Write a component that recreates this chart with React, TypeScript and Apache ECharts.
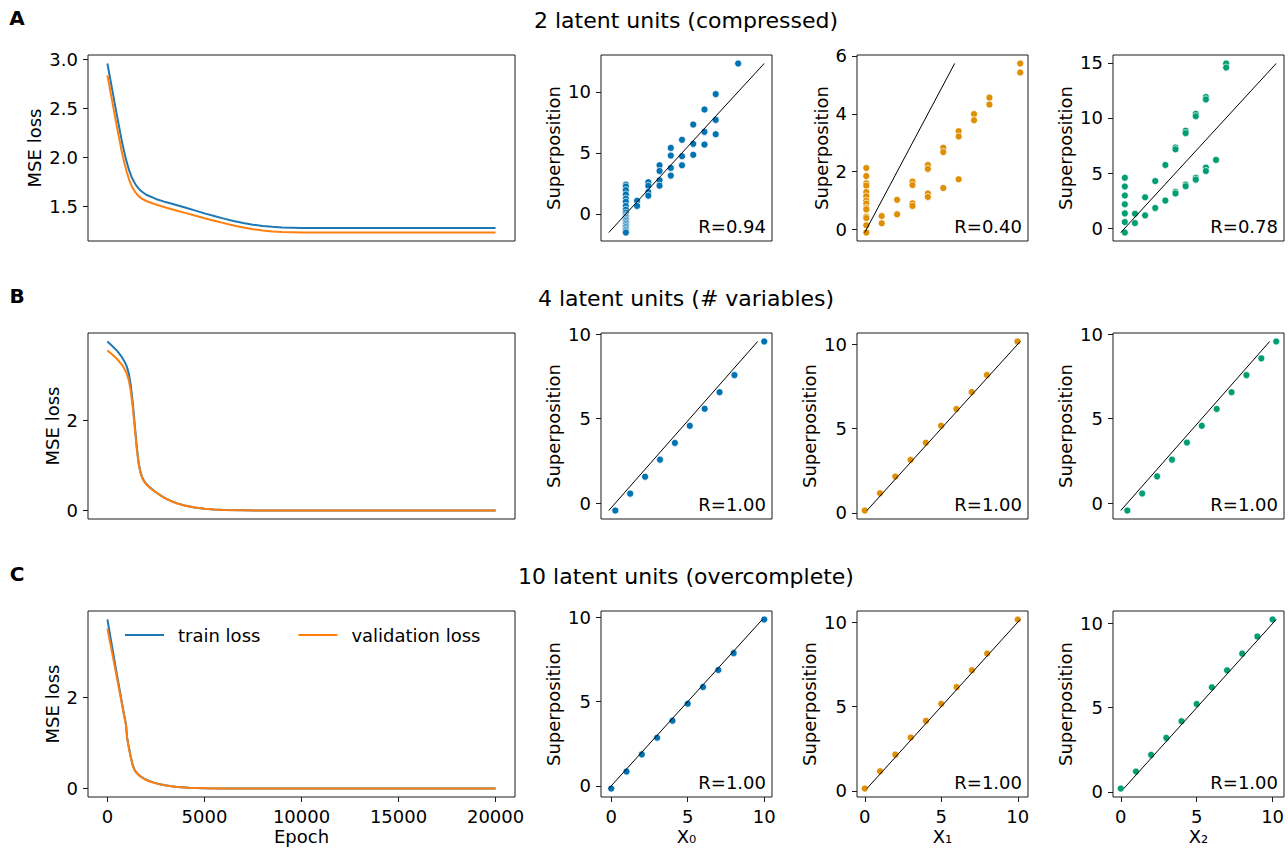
import React, { useEffect, useRef } from "react";
import * as echarts from "echarts";

const FONT = '"DejaVu Sans", sans-serif';
const INK = "#1a1a1a";

// line colours for the loss curves and the three input variables
const TRAIN_COLOR = "#1f77b4";
const VAL_COLOR = "#ff7f0e";
const X_COLORS = ["#0173b2", "#de8f05", "#029e73"];

// texts
const ROW_LETTERS = ["A", "B", "C"];
const ROW_TITLES = [
  "2 latent units (compressed)",
  "4 latent units (# variables)",
  "10 latent units (overcomplete)",
];
const X_NAMES = ["X₀", "X₁", "X₂"];
const R_LABELS = [
  ["R=0.94", "R=0.40", "R=0.78"],
  ["R=1.00", "R=1.00", "R=1.00"],
  ["R=1.00", "R=1.00", "R=1.00"],
];

// tick values
const EPOCH_TICKS = [0, 5000, 10000, 15000, 20000];
const LOSS_YTICKS = [[1.5, 2.0, 2.5, 3.0], [0, 2], [0, 2]];
const SUP_XTICKS = [0, 5, 10];
const SUP_YTICKS = [
  [[0, 5, 10], [0, 2, 4, 6], [0, 5, 10, 15]],
  [[0, 5, 10], [0, 5, 10], [0, 5, 10]],
  [[0, 5, 10], [0, 5, 10], [0, 5, 10]],
];

// loss curves, [epoch, MSE]
const trainLossA = [
  [0, 2.96], [250, 2.69], [500, 2.42], [750, 2.16], [875, 2.05], [1000, 1.95],
  [1125, 1.865], [1250, 1.8], [1375, 1.75], [1500, 1.71], [1625, 1.68], [1750, 1.655],
  [2000, 1.62], [2500, 1.577], [3000, 1.545], [3500, 1.517], [4000, 1.49],
  [4500, 1.46], [5000, 1.43], [5500, 1.402], [6000, 1.376], [6500, 1.352],
  [7000, 1.331], [7500, 1.314], [8000, 1.301], [8500, 1.292], [9000, 1.286],
  [9500, 1.283], [10000, 1.281], [11000, 1.28], [20000, 1.28],
];
const valLossA = [
  [0, 2.84], [250, 2.57], [500, 2.3], [750, 2.05], [875, 1.945], [1000, 1.85],
  [1125, 1.77], [1250, 1.71], [1375, 1.665], [1500, 1.63], [1625, 1.603], [1750, 1.583],
  [2000, 1.556], [2500, 1.52], [3000, 1.49], [3500, 1.462], [4000, 1.435],
  [4500, 1.408], [5000, 1.38], [5500, 1.355], [6000, 1.33], [6500, 1.306],
  [7000, 1.285], [7500, 1.268], [8000, 1.255], [8500, 1.245], [9000, 1.239],
  [9500, 1.236], [10000, 1.235], [11000, 1.234], [20000, 1.234],
];
const trainLossB = [
  [0, 3.76], [250, 3.66], [500, 3.55], [750, 3.41], [900, 3.3], [1000, 3.2],
  [1100, 3.05], [1200, 2.8], [1300, 2.42], [1400, 1.95], [1500, 1.47], [1600, 1.09],
  [1700, 0.86], [1800, 0.73], [1900, 0.65], [2000, 0.595], [2200, 0.51], [2400, 0.44],
  [2600, 0.38], [2800, 0.32], [3000, 0.27], [3300, 0.21], [3600, 0.16], [4000, 0.11],
  [4500, 0.068], [5000, 0.04], [5500, 0.024], [6000, 0.014], [7000, 0.005],
  [8000, 0.002], [10000, 0], [20000, 0],
];
const valLossB = [
  [0, 3.56], [250, 3.47], [500, 3.37], [750, 3.24], [900, 3.13], [1000, 3.04],
  [1100, 2.9], [1200, 2.66], [1300, 2.32], [1400, 1.88], [1500, 1.42], [1600, 1.06],
  [1700, 0.84], [1800, 0.715], [1900, 0.64], [2000, 0.585], [2200, 0.5], [2400, 0.435],
  [2600, 0.375], [2800, 0.317], [3000, 0.267], [3300, 0.207], [3600, 0.158], [4000, 0.108],
  [4500, 0.067], [5000, 0.039], [5500, 0.023], [6000, 0.013], [7000, 0.005],
  [8000, 0.002], [10000, 0], [20000, 0],
];
const trainLossC = [
  [0, 3.71], [150, 3.34], [300, 2.97], [450, 2.6], [600, 2.24], [750, 1.88],
  [850, 1.64], [930, 1.47], [960, 1.4], [1010, 1.14], [1070, 0.98], [1130, 0.85],
  [1200, 0.7], [1300, 0.52], [1400, 0.41], [1500, 0.35], [1600, 0.305], [1750, 0.255],
  [1900, 0.215], [2150, 0.165], [2400, 0.13], [2700, 0.095], [3000, 0.07], [3300, 0.05],
  [3600, 0.035], [4200, 0.016], [5000, 0.005], [6000, 0.001], [7000, 0], [20000, 0],
];
const valLossC = [
  [0, 3.51], [150, 3.18], [300, 2.85], [450, 2.52], [600, 2.18], [750, 1.85],
  [850, 1.62], [930, 1.45], [960, 1.38], [1010, 1.12], [1070, 0.965], [1130, 0.84],
  [1200, 0.69], [1300, 0.51], [1400, 0.405], [1500, 0.345], [1600, 0.3], [1750, 0.25],
  [1900, 0.21], [2150, 0.16], [2400, 0.126], [2700, 0.092], [3000, 0.068], [3300, 0.048],
  [3600, 0.034], [4200, 0.015], [5000, 0.005], [6000, 0.001], [7000, 0], [20000, 0],
];

// superposition vs. input value, [x, superposition]
const supA0 = [
  [0, 2.4], [0, 2.25], [0, 1.95], [0, 1.6], [0, 1.25], [0, 1.0], [0, 0.65], [0, 0.35],
  [0, 0.1], [0, -0.1], [0, -0.22], [0, -0.34], [0, -0.46], [0, -0.58], [0, -0.7], [0, -0.82],
  [0, -0.94], [0, -1.06], [0, -1.18], [0, -1.3], [0, -1.42], [0, -1.52],
  [1, 1.07], [1, 0.66],
  [2, 2.6], [2, 2.3], [2, 1.8], [2, 1.5],
  [3, 3.99], [3, 3.52], [3, 2.76], [3, 2.32],
  [4, 5.41], [4, 4.78], [4, 3.77], [4, 3.14],
  [5, 6.07], [5, 4.73], [5, 3.99],
  [6, 7.32], [6, 5.74], [6, 4.84],
  [7, 8.55], [7, 6.72], [7, 5.68],
  [8, 9.81], [8, 7.7], [8, 6.53],
  [10, 12.32],
];
const supA1 = [
  [0, 2.13], [0, 1.85], [0, 1.6], [0, 1.52], [0, 1.3], [0, 1.15], [0, 1.0], [0, 0.9],
  [0, 0.75], [0, 0.7], [0, 0.45], [0, 0.4], [0, 0.15], [0, -0.1],
  [1, 0.47], [1, 0.22],
  [2, 1.03], [2, 0.53],
  [3, 1.66], [3, 1.54], [3, 0.91], [3, 0.82],
  [4, 2.23], [4, 2.1], [4, 1.25], [4, 1.13],
  [5, 2.83], [5, 2.68], [5, 1.44],
  [6, 3.4], [6, 3.22], [6, 1.74],
  [7, 3.99], [7, 3.78],
  [8, 4.56], [8, 4.32],
  [10, 5.74], [10, 5.43],
];
const supA2 = [
  [0, 4.57], [0, 3.78], [0, 2.96], [0, 2.16], [0, 1.34], [0, 0.55], [0, -0.4],
  [1, 1.31], [1, 0.46],
  [2, 2.8], [2, 1.16],
  [3, 4.27], [3, 1.83],
  [4, 5.73], [4, 2.5],
  [5, 7.32], [5, 7.15], [5, 3.29], [5, 3.15],
  [6, 8.84], [6, 8.62], [6, 3.96], [6, 3.8],
  [7, 10.37], [7, 10.15], [7, 4.57], [7, 4.4],
  [8, 11.9], [8, 11.68], [8, 5.49], [8, 5.18],
  [9, 6.19],
  [10, 14.94], [10, 14.57],
];
const supB0 = [
  [0, -0.44], [1, 0.56], [2, 1.56], [3, 2.57], [4, 3.56], [5, 4.57], [6, 5.58],
  [7, 6.56], [8, 7.57], [10, 9.56],
];
const supB1 = [
  [0, 0.14], [1, 1.17], [2, 2.16], [3, 3.15], [4, 4.17], [5, 5.18], [6, 6.17],
  [7, 7.18], [8, 8.19], [10, 10.18],
];
const supB2 = [
  [0, -0.44], [1, 0.57], [2, 1.58], [3, 2.57], [4, 3.58], [5, 4.57], [6, 5.57],
  [7, 6.56], [8, 7.57], [9, 8.56], [10, 9.56],
];
const supC0 = [
  [0, -0.16], [1, 0.85], [2, 1.87], [3, 2.86], [4, 3.87], [5, 4.88], [6, 5.87],
  [7, 6.88], [8, 7.88], [10, 9.88],
];
const supC1 = [
  [0, 0.14], [1, 1.17], [2, 2.15], [3, 3.16], [4, 4.15], [5, 5.16], [6, 6.15],
  [7, 7.15], [8, 8.14], [10, 10.16],
];
const supC2 = [
  [0, 0.2], [1, 1.21], [2, 2.2], [3, 3.21], [4, 4.2], [5, 5.22], [6, 6.21],
  [7, 7.22], [8, 8.21], [9, 9.23], [10, 10.24],
];

const LOSSES = [
  [trainLossA, valLossA],
  [trainLossB, valLossB],
  [trainLossC, valLossC],
];
const SUPS = [
  [supA0, supA1, supA2],
  [supB0, supB1, supB2],
  [supC0, supC1, supC2],
];

// panel layout (px)
const ROW_TOP = [55, 333, 611];
const ROW_H = 186;
const COL_LEFT = [88, 601, 857, 1113];
const COL_W = [427, 171, 171, 171];
const TICK_FONT = 18;

const pad = (lo: number, hi: number) => {
  const d = (hi - lo) * 0.05;
  return [lo - d, hi + d];
};

let measureCtx: CanvasRenderingContext2D | null = null;
const textWidth = (s: string) => {
  if (!measureCtx) measureCtx = document.createElement("canvas").getContext("2d");
  if (!measureCtx) return s.length * TICK_FONT * 0.63;
  measureCtx.font = `${TICK_FONT}px ${FONT}`;
  return measureCtx.measureText(s).width;
};

const labelStyle = {
  fontSize: TICK_FONT,
  fontFamily: FONT,
  color: "#000",
};

function buildOption() {
  const grid: any[] = [];
  const xAxis: any[] = [];
  const yAxis: any[] = [];
  const series: any[] = [];
  const graphic: any[] = [];

  const addGrid = (r: number, c: number) => {
    grid.push({
      left: COL_LEFT[c],
      top: ROW_TOP[r],
      width: COL_W[c],
      height: ROW_H,
      show: true,
      borderColor: INK,
      borderWidth: 1,
      backgroundColor: "transparent",
    });
    return grid.length - 1;
  };

  const yAxisFor = (gi: number, min: number, max: number, ticks: number[], fmt: (v: number) => string, name: string) => {
    const widest = Math.max(...ticks.map((t) => textWidth(fmt(t))));
    return {
      gridIndex: gi,
      type: "value",
      position: "left",
      min,
      max,
      axisLine: { show: false, onZero: false },
      splitLine: { show: false },
      axisTick: { show: true, customValues: ticks, length: 5, lineStyle: { color: INK, width: 1 } },
      axisLabel: { show: true, customValues: ticks, formatter: fmt, margin: 10, ...labelStyle },
      name,
      nameLocation: "middle",
      nameGap: 10 + widest + 5.5,
      nameTextStyle: { ...labelStyle },
    };
  };

  const xAxisFor = (gi: number, min: number, max: number, ticks: number[], showTicks: boolean, name: string) => ({
    gridIndex: gi,
    type: "value",
    position: "bottom",
    min,
    max,
    axisLine: { show: false, onZero: false },
    splitLine: { show: false },
    axisTick: { show: showTicks, customValues: ticks, length: 5, lineStyle: { color: INK, width: 1 } },
    axisLabel: { show: showTicks, customValues: ticks, formatter: (v: number) => String(v), margin: 10, ...labelStyle },
    name: showTicks ? name : "",
    nameLocation: "middle",
    nameGap: 30,
    nameTextStyle: { ...labelStyle },
  });

  for (let r = 0; r < 3; r++) {
    // row letter and title
    graphic.push({
      type: "text",
      x: 17,
      y: ROW_TOP[r] - 37,
      style: {
        text: ROW_LETTERS[r],
        font: `bold 20px ${FONT}`,
        fill: "#000",
        align: "center",
        verticalAlign: "middle",
        textAlign: "center",
        textVerticalAlign: "middle",
      },
    });
    graphic.push({
      type: "text",
      x: 686,
      y: ROW_TOP[r] - 35,
      style: {
        text: ROW_TITLES[r],
        font: `22px ${FONT}`,
        fill: "#000",
        align: "center",
        verticalAlign: "middle",
        textAlign: "center",
        textVerticalAlign: "middle",
      },
    });

    // loss panel
    const [train, val] = LOSSES[r];
    const gl = addGrid(r, 0);
    const allEp = train.concat(val).map((p) => p[0]);
    const allLoss = train.concat(val).map((p) => p[1]);
    const [ex0, ex1] = pad(Math.min(...allEp), Math.max(...allEp));
    const [ly0, ly1] = pad(Math.min(...allLoss), Math.max(...allLoss));
    xAxis.push(xAxisFor(gl, ex0, ex1, EPOCH_TICKS, r === 2, "Epoch"));
    yAxis.push(
      yAxisFor(gl, ly0, ly1, LOSS_YTICKS[r], r === 0 ? (v: number) => v.toFixed(1) : (v: number) => String(v), "MSE loss")
    );
    series.push({
      name: "train loss",
      type: "line",
      xAxisIndex: gl,
      yAxisIndex: gl,
      data: train,
      symbol: "none",
      color: TRAIN_COLOR,
      lineStyle: { color: TRAIN_COLOR, width: 2, join: "round" },
      silent: true,
    });
    series.push({
      name: "validation loss",
      type: "line",
      xAxisIndex: gl,
      yAxisIndex: gl,
      data: val,
      symbol: "none",
      color: VAL_COLOR,
      lineStyle: { color: VAL_COLOR, width: 2, join: "round" },
      silent: true,
    });

    // superposition scatter panels
    for (let c = 0; c < 3; c++) {
      const pts = SUPS[r][c];
      const gi = addGrid(r, c + 1);
      const ys = pts.map((p) => p[1]);
      const lo = Math.min(...ys);
      const hi = Math.max(...ys);
      const xs = pts.map((p) => p[0]).concat([lo, hi]);
      const [x0, x1] = pad(Math.min(...xs), Math.max(...xs));
      const [y0, y1] = pad(lo, hi);
      xAxis.push(xAxisFor(gi, x0, x1, SUP_XTICKS, r === 2, X_NAMES[c]));
      yAxis.push(yAxisFor(gi, y0, y1, SUP_YTICKS[r][c], (v: number) => String(v), "Superposition"));
      series.push({
        type: "scatter",
        xAxisIndex: gi,
        yAxisIndex: gi,
        data: pts,
        symbol: "circle",
        symbolSize: 7,
        itemStyle: { color: X_COLORS[c], borderColor: "#ffffff", borderWidth: 0.7, opacity: 1 },
        silent: true,
      });
      // identity line spanning the superposition range
      series.push({
        type: "line",
        xAxisIndex: gi,
        yAxisIndex: gi,
        data: [
          [lo, lo],
          [hi, hi],
        ],
        symbol: "none",
        lineStyle: { color: "#000", width: 1 },
        silent: true,
        z: 3,
      });
      graphic.push({
        type: "text",
        x: COL_LEFT[c + 1] + COL_W[c + 1] - 6,
        y: ROW_TOP[r] + ROW_H - 15,
        style: {
          text: R_LABELS[r][c],
          font: `${TICK_FONT}px ${FONT}`,
          fill: "#000",
          align: "right",
          verticalAlign: "middle",
          textAlign: "right",
          textVerticalAlign: "middle",
        },
      });
    }
  }

  return {
    animation: false,
    backgroundColor: "#ffffff",
    textStyle: { fontFamily: FONT },
    legend: {
      data: ["train loss", "validation loss"],
      icon: "rect",
      left: 125,
      top: 626,
      padding: 0,
      itemWidth: 39,
      itemHeight: 2,
      itemGap: 38,
      selectedMode: false,
      textStyle: { ...labelStyle, padding: [0, 0, 0, 9] },
    },
    grid,
    xAxis,
    yAxis,
    series,
    graphic,
  };
}

export default function App() {
  const ref = useRef<HTMLDivElement>(null);
  useEffect(() => {
    document.body.style.margin = "0";
    if (!ref.current) return;
    const chart = echarts.init(ref.current, undefined, { renderer: "svg" });
    chart.setOption(buildOption() as any);
    return () => chart.dispose();
  }, []);
  return <div ref={ref} style={{ width: 1288, height: 851 }} />;
}
